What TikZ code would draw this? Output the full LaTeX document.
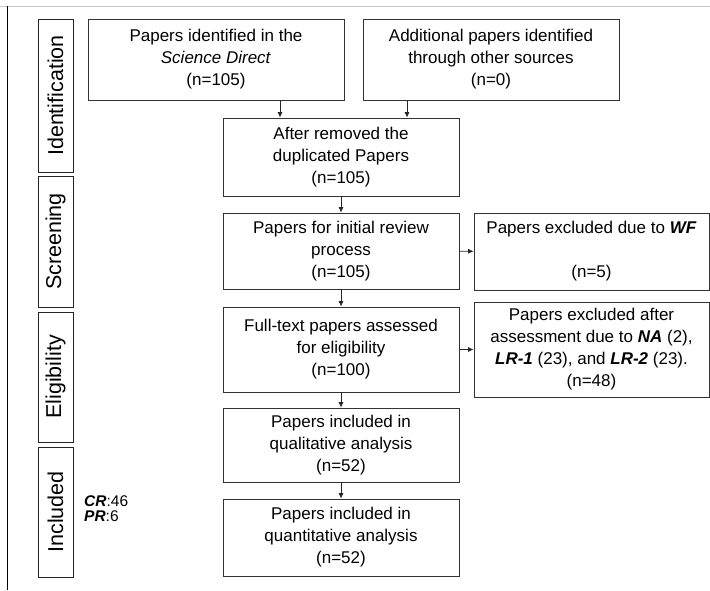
\documentclass[tikz,border=0pt]{standalone}
\usepackage{fontspec}
\setmainfont{Liberation Sans}
\usepackage{tikz}
\usetikzlibrary{positioning,arrows.meta,calc}

\newcommand{\bi}[1]{\textbf{\textit{#1}}}

\begin{document}
\begin{tikzpicture}[x=1pt,y=-1pt,
    box/.style={draw=black!80, line width=0.9pt, inner sep=0pt, align=center, font=\fontsize{17}{22}\selectfont},
    stage/.style={draw=black!85, line width=0.9pt, inner sep=0pt, rotate=90, minimum height=35pt, font=\fontsize{21.5}{24}\selectfont},
    arr/.style={draw=black!85, line width=0.7pt, -{Latex[length=5.5pt,width=5pt]}}]
    \useasboundingbox (0,0) rectangle (710,590);
    % frame lines
    \draw[black!20, line width=1pt] (0,6) -- (710,6);
    \draw[black, line width=1pt] (7,6) -- (7,590);
    % stages
    \node[stage, minimum width=153pt] (ident) at (55.5,95.5) {Identification};
    \node[stage, minimum width=131pt] (screen) at (55.5,241.5) {Screening};
    \node[stage, minimum width=130pt] (elig) at (55.5,377) {Eligibility};
    \node[stage, minimum width=130pt] (incl) at (55.5,512) {Included};
    \node[anchor=west, align=left, inner sep=0pt, font=\fontsize{15.5}{15}\selectfont] (crpr) at (84,509) {\bi{CR}:46\\\bi{PR}:6};
    % flow boxes
    \node[box, minimum width=256pt, minimum height=81pt] (found) at (216,59.5) {Papers identified in the\\\textit{Science Direct}\\(n=105)};
    \node[box, minimum width=256pt, minimum height=81pt] (other) at (491,59.5) {Additional papers identified\\through other sources\\(n=0)};
    \node[box, minimum width=236pt, minimum height=78pt] (dedup) at (341,157) {After removed the\\duplicated Papers\\(n=105)};
    \node[box, minimum width=236pt, minimum height=76pt] (review) at (341,251) {Papers for initial review\\process\\(n=105)};
    \node[box, minimum width=235pt, minimum height=77pt] (exwf) at (591.5,251.5) {Papers excluded due to \bi{WF}\\~\\(n=5)};
    \node[box, minimum width=236pt, minimum height=85pt] (full) at (341,349.5) {Full-text papers assessed\\for eligibility\\(n=100)};
    \node[box, minimum width=235pt, minimum height=95pt] (exlr) at (591.5,349.5) {Papers excluded after\\assessment due to \bi{NA} (2),\\\bi{LR-1} (23), and \bi{LR-2} (23).\\(n=48)};
    \node[box, minimum width=236pt, minimum height=74pt] (qual) at (341,445) {Papers included in\\qualitative analysis\\(n=52)};
    \node[box, minimum width=236pt, minimum height=77pt] (quant) at (341,537.5) {Papers included in\\quantitative analysis\\(n=52)};
    % arrows
    \draw[arr] ([xshift=64pt]found.south) -- ([xshift=64pt]found.south |- dedup.north);
    \draw[arr] ([xshift=-84pt]other.south) -- ([xshift=-84pt]other.south |- dedup.north);
    \draw[arr] (dedup) -- (review);
    \draw[arr] (review) -- (exwf);
    \draw[arr] (review) -- (full);
    \draw[arr] (full) -- (exlr);
    \draw[arr] (full) -- (qual);
    \draw[arr] (qual) -- (quant);
\end{tikzpicture}
\end{document}
